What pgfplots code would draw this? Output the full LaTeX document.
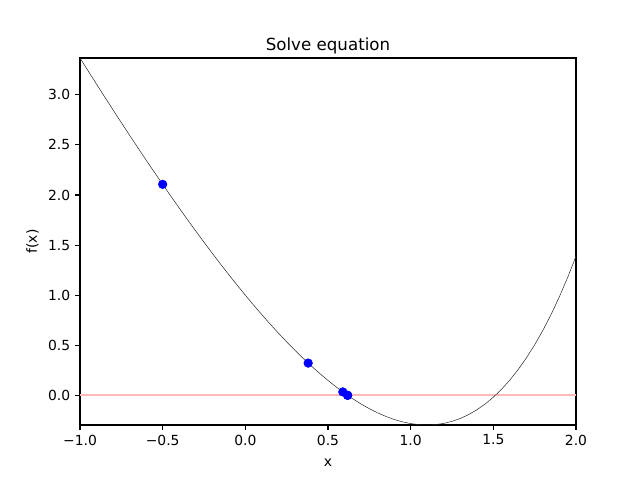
\documentclass[border=0pt]{standalone}
\usepackage{fontspec}
\setmainfont{DejaVu Sans}
\usepackage{pgfplots}
\pgfplotsset{compat=1.18}
\definecolor{zeroline}{RGB}{255,185,185}
\begin{document}
\begin{tikzpicture}
\begin{axis}[
  scale only axis,
  width=357.12pt, height=264.24pt,
  xmin=-1, xmax=2, ymin=-0.295834, ymax=3.367879,
  axis line style={line width=0.8pt},
  every tick/.style={black, line width=0.8pt},
  tick align=outside, major tick length=3.5pt,
  xtick pos=left, ytick pos=left,
  xtick={-1,-0.5,0,0.5,1,1.5,2},
  xticklabels={−1.0,−0.5,0.0,0.5,1.0,1.5,2.0},
  ytick={0,0.5,1,1.5,2,2.5,3},
  yticklabels={0.0,0.5,1.0,1.5,2.0,2.5,3.0},
  ticklabel style={font=\fontsize{10}{12}\selectfont},
  title={Solve equation},
  title style={font=\fontsize{12}{14}\selectfont, at={(0.5,1)}, anchor=south, yshift=-6.4pt},
  xlabel={x}, ylabel={f(x)},
  xlabel style={yshift=-3pt},
  label style={font=\fontsize{10}{12}\selectfont},
  clip=true,
]
\addplot[zeroline, line width=1.5pt, forget plot] coordinates {(-1,0) (2,0)};
\addplot[draw=black!85, line width=0.36pt, forget plot] coordinates {
(-1.00,3.367879) (-0.95,3.236741) (-0.90,3.106570) (-0.85,2.977415) (-0.80,2.849329)
(-0.75,2.722367) (-0.70,2.596585) (-0.65,2.472046) (-0.60,2.348812) (-0.55,2.226950)
(-0.50,2.106531) (-0.45,1.987628) (-0.40,1.870320) (-0.35,1.754688) (-0.30,1.640818)
(-0.25,1.528801) (-0.20,1.418731) (-0.15,1.310708) (-0.10,1.204837) (-0.05,1.101229)
(0.00,1.000000) (0.05,0.901271) (0.10,0.805171) (0.15,0.711834) (0.20,0.621403)
(0.25,0.534025) (0.30,0.449859) (0.35,0.369068) (0.40,0.291825) (0.45,0.218312)
(0.50,0.148721) (0.55,0.083253) (0.60,0.022119) (0.65,-0.034459) (0.70,-0.086247)
(0.75,-0.133000) (0.80,-0.174459) (0.85,-0.210353) (0.90,-0.240397) (0.95,-0.264290)
(1.00,-0.281718) (1.05,-0.292349) (1.10,-0.295834) (1.15,-0.291807) (1.20,-0.279883)
(1.25,-0.259657) (1.30,-0.230703) (1.35,-0.192574) (1.40,-0.144800) (1.45,-0.086885)
(1.50,-0.018311) (1.55,0.061470) (1.60,0.153032) (1.65,0.256980) (1.70,0.373947)
(1.75,0.504603) (1.80,0.649647) (1.85,0.809820) (1.90,0.985894) (1.95,1.178688)
(2.00,1.389056)
};
\addplot[only marks, mark=*, mark size=3.1pt, blue, mark options={draw=blue, fill=blue}] coordinates {
(-0.5,2.106531) (0.380116,0.322107) (0.589610,0.034455) (0.618401,0.000754) (0.619060,0.0)
};
\end{axis}
\path (current axis.south west) ++(-57.6pt,-38.16pt) rectangle ++(460.8pt,344.16pt);
\end{tikzpicture}
\end{document}
